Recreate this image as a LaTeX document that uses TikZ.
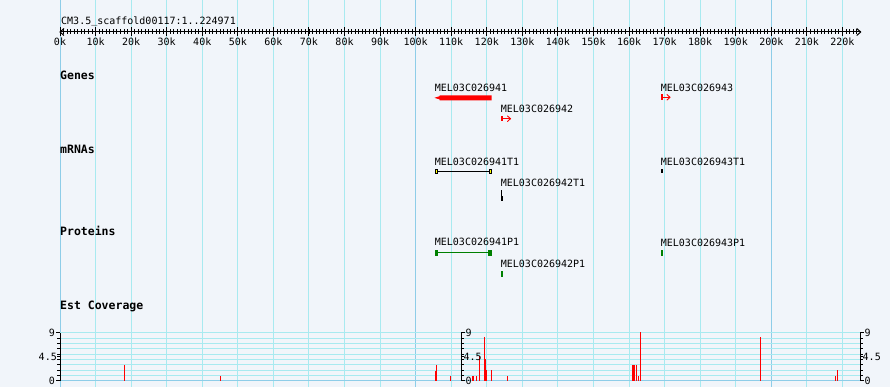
\documentclass[tikz,border=0pt]{standalone}
\usepackage{fontspec}
\newfontfamily\monof{DejaVu Sans Mono}
\definecolor{bgc}{HTML}{F1F5FA}
\definecolor{gridc}{HTML}{A8EAF0}
\definecolor{gridd}{HTML}{8ECDE8}
\definecolor{protg}{HTML}{008000}
\definecolor{cdsy}{HTML}{FFFF00}
\tikzset{
  lbl/.style={font=\monof\fontsize{10}{12}\selectfont, inner sep=0pt, text=black},
  trk/.style={font=\monof\bfseries\fontsize{11.5}{13}\selectfont, inner sep=0pt, text=black, anchor=base west},
  grid/.style={draw=gridc, line width=1pt},
  gridmaj/.style={draw=gridd, line width=1pt},
  ax/.style={draw=black, line width=1pt},
  cov/.style={draw=red, line width=1pt},
}
\begin{document}
\begin{tikzpicture}[x=1pt,y=-1pt]
\useasboundingbox (0,0) rectangle (890,387);
\fill[bgc] (0,0) rectangle (890,387);
% vertical grid
\foreach \k in {0,10,...,220} {
  \pgfmathsetmacro\xx{60+3.5565*\k}
  \draw[grid] (\xx,0) -- (\xx,387);
}
\foreach \k in {0,100,200} {
  \pgfmathsetmacro\xx{60+3.5565*\k}
  \draw[gridmaj] (\xx,0) -- (\xx,387);
}
% coverage horizontal grid
\foreach \i in {1,...,9} {
  \pgfmathsetmacro\yy{380.7-5.333*\i}
  \draw[grid] (60,\yy) -- (860,\yy);
}
\draw[gridmaj] (60,380.7) -- (860,380.7);
% title
\node[lbl, anchor=base west] (title) at (61,25) {CM3.5\raisebox{1.6pt}{\_}scaffold00117:1..224971};
% ruler
\coordinate (rl) at (60,32);
\coordinate (rr) at (860.7,32);
\draw[ax] (rl) -- (rr);
\draw[ax] (64,28.5) -- (rl) -- (64,35.5);
\draw[ax] (856.7,28.5) -- (rr) -- (856.7,35.5);
\foreach \k in {1,...,224} {
  \pgfmathsetmacro\xx{60+3.5565*\k}
  \draw[black, line width=0.9pt] (\xx,29.5) -- (\xx,34.5);
}
\foreach \k in {0,10,...,220} {
  \pgfmathsetmacro\xx{60+3.5565*\k}
  \draw[black, line width=1pt] (\xx,27.5) -- (\xx,36.5);
  \node[lbl, anchor=base] (t\k) at (\xx,46) {\k k};
}
% track labels
\node[trk] (genes) at (60,80) {Genes};
\node[trk] (mrnas) at (60,154) {mRNAs};
\node[trk] (prots) at (60,235) {Proteins};
\node[trk] (estc) at (60,309) {Est Coverage};
% genes
\node[lbl, anchor=base west] (g1) at (434.7,91.3) {MEL03C026941};
\fill[red] (434.5,97.8) -- (439.5,96.2) -- (439.5,95.3) -- (491.7,95.3) -- (491.7,100.3) -- (439.5,100.3) -- (439.5,99.4) -- cycle;
\node[lbl, anchor=base west] (g2) at (500.7,112.7) {MEL03C026942};
\fill[red] (501,115.7) rectangle (503,121.5);
\draw[red, line width=1pt] (503,118.7) -- (510.5,118.7);
\draw[red, line width=0.9pt] (507.3,115.8) -- (510.5,118.7) -- (507.3,121.6);
\node[lbl, anchor=base west] (g3) at (660.7,91.3) {MEL03C026943};
\fill[red] (660.7,94.3) rectangle (663,100.3);
\draw[red, line width=1pt] (663,97.3) -- (670,97.3);
\draw[red, line width=0.9pt] (666.8,94.4) -- (670,97.3) -- (666.8,100.2);
% mRNAs
\node[lbl, anchor=base west] (m1) at (434.7,165.7) {MEL03C026941T1};
\draw[black, line width=1pt] (437,171.2) -- (489,171.2);
\filldraw[fill=cdsy, draw=black, line width=0.8pt] (435.2,169.4) rectangle (437.7,173.1);
\filldraw[fill=cdsy, draw=black, line width=0.8pt] (489,169.4) rectangle (491.4,173.1);
\node[lbl, anchor=base west] (m2) at (500.7,186.7) {MEL03C026942T1};
\fill[black] (501,190.5) rectangle (502.4,195.6);
\fill[black] (501,196.5) rectangle (503,201);
\node[lbl, anchor=base west] (m3) at (660.7,165.7) {MEL03C026943T1};
\fill[black] (660.7,169) rectangle (663,173.3);
% proteins
\node[lbl, anchor=base west] (p1) at (434.7,245.7) {MEL03C026941P1};
\draw[protg, line width=1pt] (438,252.8) -- (488,252.8);
\fill[protg] (434.7,250) rectangle (438,255.8);
\fill[protg] (488,250) rectangle (492,255.8);
\node[lbl, anchor=base west] (p2) at (500.7,267.2) {MEL03C026942P1};
\fill[protg] (500.7,271) rectangle (503,276.8);
\node[lbl, anchor=base west] (p3) at (660.7,246.4) {MEL03C026943P1};
\fill[protg] (660.7,250) rectangle (663,256);
% coverage bars
\foreach \bx/\by in {124.3/365, 220.3/376, 435.7/370.7, 436.7/365, 450.3/376, 472/376, 473.4/376, 476.3/376, 479.3/356, 484/336.7, 485.2/359, 486.4/370, 491.7/370, 507.3/376, 632/364.7, 633.3/364.7, 634.7/364.7, 636/364.7, 638.7/376, 640.3/332, 760.3/336.7, 835.3/376, 837/370} {
  \draw[cov] (\bx,380.7) -- (\bx,\by);
}
% coverage axes
\draw[ax] (60,332.7) -- (60,380.7);
\foreach \i in {1,...,8} {
  \pgfmathsetmacro\yy{380.7-5.333*\i}
  \draw[ax] (57,\yy) -- (60,\yy);
  \draw[ax] (461,\yy) -- (464,\yy);
  \draw[ax] (860,\yy) -- (863,\yy);
}
\draw[ax] (56,332.7) -- (60,332.7);
\draw[ax] (56,380.7) -- (60,380.7);
\draw[ax] (57,356.7) -- (60,356.7);
\draw[ax] (461,332.7) -- (461,380.7);
\draw[ax] (461,332.7) -- (465,332.7);
\draw[ax] (461,380.7) -- (465,380.7);
\draw[ax] (461,356.7) -- (464,356.7);
\draw[ax] (860,332.7) -- (860,380.7);
\draw[ax] (860,332.7) -- (864,332.7);
\draw[ax] (860,380.7) -- (864,380.7);
\draw[ax] (860,356.7) -- (863,356.7);
\node[lbl, anchor=east] (l9) at (55,332.7) {9};
\node[lbl, anchor=east] (l45) at (57,356.7) {4.5};
\node[lbl, anchor=east] (l0) at (55,380.7) {0};
\node[lbl, anchor=west] (m9) at (465.5,332.7) {9};
\node[lbl, anchor=west] (m45) at (463.5,356.7) {4.5};
\node[lbl, anchor=west] (m0) at (465.5,380.7) {0};
\node[lbl, anchor=west] (r9) at (864.5,332.7) {9};
\node[lbl, anchor=west] (r45) at (862.5,356.7) {4.5};
\node[lbl, anchor=west] (r0) at (864.5,380.7) {0};
\end{tikzpicture}
\end{document}
